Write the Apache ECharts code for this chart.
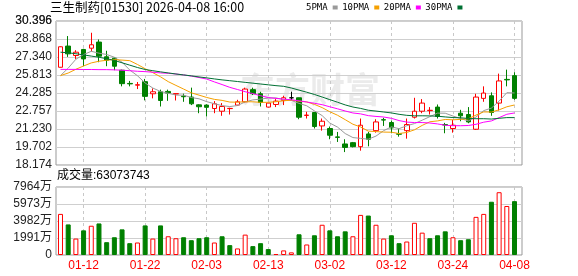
<!DOCTYPE html>
<html><head><meta charset="utf-8">
<script src="https://cdn.jsdelivr.net/npm/echarts@6/dist/echarts.min.js"></script>
<style>html,body{margin:0;padding:0;background:#fff}#c{width:578px;height:276px}</style>
</head><body><div id="c"></div>
<script>
const titleText = '三生制药[01530] 2026-04-08 16:00';
const volumeTitle = '成交量:63073743';
const watermarkText = '东方财富';
const maNames = ['5PMA', '10PMA', '20PMA', '30PMA'];
const dates = ['01-07','01-08','01-09','01-12','01-13','01-14','01-15','01-16','01-19','01-20','01-21','01-22','01-23','01-26','01-27','01-28','01-29','01-30','02-02','02-03','02-04','02-05','02-06','02-09','02-10','02-11','02-12','02-13','02-16','02-20','02-23','02-24','02-25','02-26','02-27','03-02','03-03','03-04','03-05','03-06','03-09','03-10','03-11','03-12','03-13','03-16','03-17','03-18','03-19','03-20','03-23','03-24','03-25','03-26','03-27','03-30','03-31','04-01','04-02','04-08'];
const opens  = [26.47,28.27,27.47,27.98,28.09,28.61,27.36,27.24,26.22,25.10, 24.95,25.25,24.22,24.39,24.42,24.20,24.02,23.94,23.28,23.26, 22.97,22.74,22.96,23.26,23.54,24.57,24.22,23.09,23.31,23.66, 23.88,23.88,22.38,22.63,21.49,21.27,20.56,19.96,20.07,19.73, 20.81,21.09,22.02,21.78,20.82,21.09,22.23,22.74,22.79,23.09, 21.60,21.27,22.57,22.46,21.21,23.83,24.05,23.43,25.44,25.76];
const closes = [28.21,27.61,27.75,27.18,28.38,27.41,27.07,26.56,25.08,25.06, 24.99,24.00,24.39,23.65,24.28,24.23,23.97,23.37,23.12,23.07, 23.37,23.14,22.98,23.54,24.62,24.22,23.48,23.43,23.60,23.88, 23.88,22.23,22.41,21.44,21.89,20.70,20.52,19.67,19.73,21.55, 20.36,21.83,21.99,21.32,20.79,21.61,22.74,23.43,22.82,22.29, 21.57,21.55,22.35,21.83,23.94,24.28,22.63,25.31,25.40,23.83];
const lows   = [26.45,27.35,27.18,26.56,27.81,26.90,26.56,26.22,24.85,24.85, 24.62,23.66,23.83,23.14,23.62,23.65,23.54,23.26,22.57,22.29, 22.57,22.35,22.46,23.20,23.48,24.11,23.14,23.07,23.09,23.26, 23.66,22.06,22.12,21.27,21.09,20.36,20.13,19.27,19.67,19.39, 19.76,20.92,21.49,20.87,20.58,20.41,22.12,22.57,22.46,22.12, 20.87,20.92,21.89,21.72,21.15,23.54,22.35,22.80,24.85,23.71];
const highs  = [28.24,29.12,27.92,28.04,29.40,28.83,27.87,27.30,26.27,25.31, 25.22,25.48,24.68,24.57,24.57,24.24,24.23,24.74,23.33,23.33, 23.60,23.43,23.03,23.71,24.74,24.74,24.39,23.45,23.77,24.05, 24.40,23.90,22.69,22.65,22.12,21.44,20.98,20.36,20.13,22.12, 20.98,22.06,22.18,21.95,21.21,22.12,23.88,23.77,23.09,23.31, 21.75,22.01,22.86,23.09,24.22,24.85,24.34,25.93,26.27,26.05];
// volume in 万 shares
const volumes = [4813,3581,1925,2888,3427,3696,1502,2079,3003,1386, 1463,3465,1925,3465,2195,1964,2079,1733,1964,2079, 1463,2195,1155,770,2387,1040,1386,693,116,539, 308,2426,1232,2310,3542,2888,2195,2772,2195,4697, 4620,3542,1925,2310,1386,1579,3773,2618,1964,2310, 2772,2079,1733,1848,4466,4813,6237,7354,5737,6307];
// 1 = up day (red hollow bar), 0 = down day (green bar)
const volUp = [1,0,1,0,1,0,0,0,0,0, 1,0,1,0,1,1,0,0,0,0, 1,0,0,1,1,0,0,0,1,1, 1,0,1,0,1,0,0,0,1,1, 0,1,1,0,0,1,1,1,0,0, 0,1,0,0,1,1,0,1,1,0];
// moving-average values read from the picture where earlier history is not shown
const ma5Head  = [25.76,26.40,27.15,27.55];
const ma10Head = [25.76,25.98,26.30,26.58,26.84,26.98,27.07,27.12,27.08];
const ma20Head = [26.29,26.29,26.29,26.28,26.28,26.27,26.27,26.25,26.22,26.18,26.13,26.10,26.05,25.99,25.96,25.90,25.82,25.72,25.60];
const ma30Head = [27.75,27.70,27.62,27.52,27.42,27.32,27.20,27.05,26.85,26.65,26.45,26.28,26.18,26.08,25.99,25.90,25.82,25.74,25.65,25.57,25.48,25.40,25.33,25.26,25.19,25.12,25.05,24.98,24.91];
const priceLabels = ['18.174','19.702','21.230','22.757','24.285','25.813','27.340','28.868','30.396'];
const volLabels = ['0','1991万','3982万','5973万','7964万'];

function ma(n, head) {
  return closes.map((c, i) => {
    if (i < head.length) return head[i];
    let s = 0;
    for (let k = i - n + 1; k <= i; k++) s += closes[k];
    return +(s / n).toFixed(3);
  });
}
const maData = [ma(5, ma5Head), ma(10, ma10Head), ma(20, ma20Head), ma(30, ma30Head)];
const maColors = ['#9a9a9a', '#f5a000', '#ff00ff', '#007033'];

const RED = '#ff0000', GREEN = '#008000';
const priceNums = priceLabels.map(Number);
const pMin = priceNums[0], pTop = priceNums[priceNums.length - 1];
const pInt = (pTop - pMin) / (priceNums.length - 1);
const pMax = pTop + 0.002; // tiny headroom so the top tick lies inside the extent
const vNums = volLabels.map(s => parseFloat(s));
const vMax = vNums[vNums.length - 1];

const candleData = dates.map((d, i) => {
  const v = [opens[i], closes[i], lows[i], highs[i]];
  if (opens[i] === closes[i]) {
    return { value: v, itemStyle: { color: '#000', color0: '#000', borderColor: '#000', borderColor0: '#000' } };
  }
  return v;
});
const volData = volumes.map((v, i) => ({
  value: v,
  itemStyle: volUp[i] ? { color: '#fff', borderColor: RED, borderWidth: 1 } : { color: GREEN, borderColor: GREEN, borderWidth: 1 }
}));

const showIdx = (idx) => (idx - 3) % 8 === 0;
const font = "'Liberation Sans', Arial, 'Noto Sans CJK SC', sans-serif";
const labelFont = "12px 'Liberation Sans', Arial, sans-serif";
const nearest = (nums, labels) => (v) => {
  let b = 0;
  nums.forEach((p, k) => { if (Math.abs(p - v) < Math.abs(nums[b] - v)) b = k; });
  return labels[b];
};

const catAxis = (grid, labels) => ({
  type: 'category', gridIndex: grid, data: dates, boundaryGap: true,
  axisLine: { show: false }, axisTick: { show: false },
  axisLabel: labels ? { show: true, interval: showIdx, color: RED, fontSize: 12, margin: 5, fontFamily: font } : { show: false },
  splitLine: { show: true, interval: showIdx, alignWithLabel: true, lineStyle: { type: [3, 3], color: '#c8c8c8', width: 1 } }
});

const gridBase = { containLabel: false, outerBoundsMode: 'none' };
const chart = echarts.init(document.getElementById('c'), null, { renderer: 'canvas' });
chart.setOption({
  animation: false,
  backgroundColor: '#fff',
  legend: {
    left: 306, top: 3, padding: 0, align: 'right', itemWidth: 5, itemHeight: 4, itemGap: 4.5, icon: 'rect',
    data: maNames, textStyle: { fontSize: 9, color: '#000', fontFamily: "'DejaVu Sans Mono', monospace" },
    selectedMode: false
  },
  graphic: [
    { id: 'wm', type: 'text', left: 240, top: 72, z: -10, silent: true,
      style: { text: watermarkText, font: "bold 35px 'Noto Sans CJK SC', sans-serif", fill: '#ebebeb' } },
    { id: 'title', type: 'text', left: 50, top: 1, silent: true,
      style: { text: titleText, font: "12.5px 'Noto Sans CJK SC', sans-serif", fill: '#000' } },
    { id: 'voltitle', type: 'text', left: 57, top: 170, silent: true,
      style: { text: volumeTitle, font: "12px 'Liberation Sans', Arial, 'Noto Sans CJK SC', sans-serif", fill: '#000' } }
  ],
  grid: [
    Object.assign({ left: 56.65, top: 21, width: 461.7, height: 144, show: false }, gridBase),
    Object.assign({ left: 56, top: 21, width: 466, height: 144, show: true, borderColor: '#999', borderWidth: 1, backgroundColor: 'transparent' }, gridBase),
    Object.assign({ left: 56.65, top: 187, width: 461.7, height: 68, show: false }, gridBase),
    Object.assign({ left: 56, top: 187, width: 466, height: 68, show: true, borderColor: '#999', borderWidth: 1, backgroundColor: 'transparent' }, gridBase)
  ],
  xAxis: [
    catAxis(0, false),
    { type: 'value', gridIndex: 1, min: 0, max: 1, show: false },
    catAxis(2, true),
    { type: 'value', gridIndex: 3, min: 0, max: 1, show: false }
  ],
  yAxis: [
    { type: 'value', gridIndex: 0, min: pMin, max: pMax, show: false },
    { type: 'value', gridIndex: 1, min: pMin, max: pMax, interval: pInt,
      axisLine: { show: false }, axisTick: { show: false },
      axisLabel: { margin: 4, fontSize: 12, color: '#222', fontFamily: font,
        showMinLabel: true, showMaxLabel: false, hideOverlap: false, formatter: nearest(priceNums, priceLabels) },
      splitLine: { lineStyle: { color: '#cfcfcf', width: 1 } } },
    { type: 'value', gridIndex: 2, min: 0, max: vMax, show: false },
    { type: 'value', gridIndex: 3, min: 0, max: vMax, interval: vMax / (volLabels.length - 1),
      axisLine: { show: false }, axisTick: { show: false },
      axisLabel: { margin: 4, fontSize: 12, color: '#222', fontFamily: font, showMinLabel: true, showMaxLabel: true,
        formatter: nearest(vNums, volLabels) },
      splitLine: { lineStyle: { color: '#cfcfcf', width: 1 } } }
  ],
  series: [
    { type: 'candlestick', name: 'K', xAxisIndex: 0, yAxisIndex: 0, barWidth: 5, z: 2,
      itemStyle: { color: '#fff', color0: GREEN, borderColor: RED, borderColor0: GREEN, borderWidth: 1 },
      data: candleData },
    ...maNames.map((n, k) => ({
      type: 'line', name: n, xAxisIndex: 0, yAxisIndex: 0, data: maData[k], symbol: 'none', z: 3,
      lineStyle: { width: 1, color: maColors[k] }, itemStyle: { color: maColors[k] }
    })),
    { type: 'bar', name: 'VOL', xAxisIndex: 2, yAxisIndex: 2, barWidth: 5, data: volData }
  ]
});

// The top price label sits on the plot's upper edge; place it through the axis' own scale.
const topK = priceLabels.length - 1;
const topY = chart.convertToPixel({ yAxisIndex: 1 }, priceNums[topK]);
const leftX = chart.convertToPixel({ xAxisIndex: 1 }, 0);
chart.setOption({ graphic: [
  { id: 'plabTop', type: 'text', x: leftX - 4, y: topY, silent: true,
    style: { text: priceLabels[topK], font: labelFont, fill: '#222', align: 'right', verticalAlign: 'middle' } }
] });
</script></body></html>
